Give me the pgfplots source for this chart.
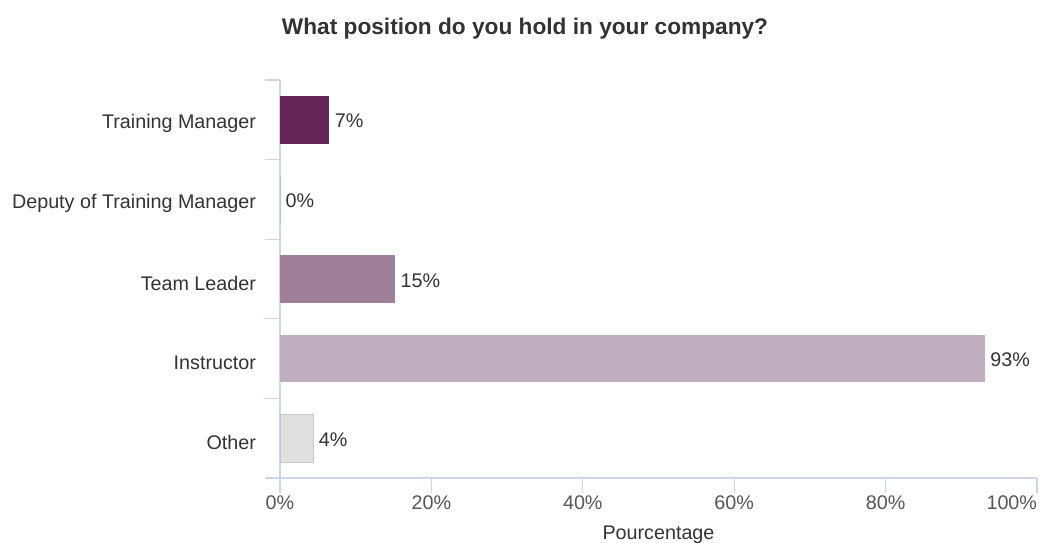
\documentclass[border=0pt]{standalone}
\usepackage{fontspec}
\setmainfont{Liberation Sans}
\usepackage{pgfplots}
\pgfplotsset{compat=1.18}

\definecolor{axisln}{HTML}{CCD6EB}
\definecolor{txt}{HTML}{333333}
\definecolor{ticktxt}{HTML}{555555}
\definecolor{c1}{HTML}{662657}
\definecolor{c2}{HTML}{A08098}
\definecolor{c3}{HTML}{C0AEBE}
\definecolor{c4}{HTML}{E0E0E0}

\begin{document}
\begin{tikzpicture}[x=1pt,y=1pt]
\path[use as bounding box] (0,0) rectangle (780,407.25);
\node[font=\bfseries\fontsize{17}{20}\selectfont, text=txt] at (393.75,386) {What position do you hold in your company?};
\begin{axis}[
    at={(210pt,48.75pt)}, anchor=south west,
    scale only axis,
    width=567.75pt, height=298.5pt,
    xbar, bar width=0.6, bar shift=0pt,
    xmin=0, xmax=100, ymin=-0.5, ymax=4.5,
    axis x line*=bottom, axis y line*=left,
    axis line style={axisln, line width=0.8pt, -},
    xtick={0,20,40,60,80,100},
    xticklabels={0\%,20\%,40\%,60\%,80\%,\makebox[0pt][r]{100\%}},
    ytick={0,1,2,3,4},
    yticklabels={Other, Instructor, Team Leader, Deputy of Training Manager, Training Manager},
    minor ytick={-0.5,0.5,1.5,2.5,3.5,4.5},
    tick align=outside,
    major tick length=11pt,
    minor tick length=11pt,
    y tick style={draw=none},
    minor y tick style={draw=axisln, line width=0.8pt},
    x tick style={draw=axisln, line width=0.8pt},
    yticklabel style={font=\fontsize{14.8}{17}\selectfont, text=txt, xshift=-3.5pt, yshift=-3pt},
    xticklabel style={font=\fontsize{14.8}{17}\selectfont, text=ticktxt, yshift=1pt},
    xlabel={Pourcentage},
    xlabel style={font=\fontsize{14.8}{17}\selectfont, text=txt, yshift=-5pt},
    point meta=explicit symbolic,
    nodes near coords={\pgfplotspointmeta},
    nodes near coords style={anchor=west, font=\fontsize{14.8}{17}\selectfont, text=txt, inner sep=4pt, yshift=-1pt},
    clip=false,
]
\addplot[fill=c1, draw=none] coordinates {(6.5,4) [7\%]};
\addplot[fill=c1, draw=none] coordinates {(0,3) [0\%]};
\addplot[fill=c2, draw=none] coordinates {(15.2,2) [15\%]};
\addplot[fill=c3, draw=none] coordinates {(93.1,1) [93\%]};
\addplot[fill=c4, draw=black!22] coordinates {(4.4,0) [4\%]};
\end{axis}
\end{tikzpicture}
\end{document}
